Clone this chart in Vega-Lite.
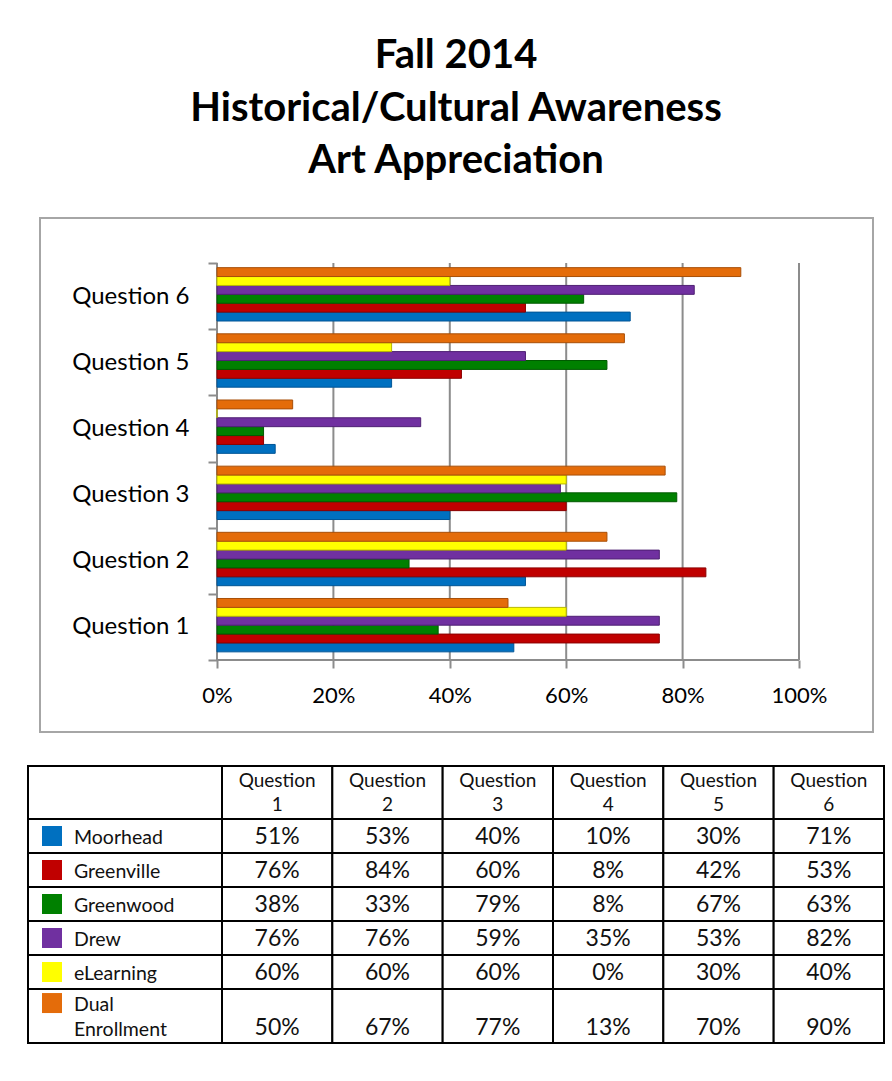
{
  "$schema": "https://vega.github.io/schema/vega-lite/v6.json",
  "background": "white",
  "padding": {"left": 26, "top": 36, "right": 5, "bottom": 5},
  "config": {"font": "Lato", "view": {"stroke": null}},
  "title": {
    "text": ["Fall 2014", "Historical/Cultural Awareness", "Art Appreciation"],
    "font": "Lato", "fontSize": 40, "fontWeight": "bold", "lineHeight": 52.5,
    "anchor": "middle", "offset": 24, "color": "black"
  },
  "datasets": {
    "scores": [
      {"question": "Question 1", "series": "Moorhead", "value": 0.51},
      {"question": "Question 1", "series": "Greenville", "value": 0.76},
      {"question": "Question 1", "series": "Greenwood", "value": 0.38},
      {"question": "Question 1", "series": "Drew", "value": 0.76},
      {"question": "Question 1", "series": "eLearning", "value": 0.60},
      {"question": "Question 1", "series": "Dual Enrollment", "value": 0.50},
      {"question": "Question 2", "series": "Moorhead", "value": 0.53},
      {"question": "Question 2", "series": "Greenville", "value": 0.84},
      {"question": "Question 2", "series": "Greenwood", "value": 0.33},
      {"question": "Question 2", "series": "Drew", "value": 0.76},
      {"question": "Question 2", "series": "eLearning", "value": 0.60},
      {"question": "Question 2", "series": "Dual Enrollment", "value": 0.67},
      {"question": "Question 3", "series": "Moorhead", "value": 0.40},
      {"question": "Question 3", "series": "Greenville", "value": 0.60},
      {"question": "Question 3", "series": "Greenwood", "value": 0.79},
      {"question": "Question 3", "series": "Drew", "value": 0.59},
      {"question": "Question 3", "series": "eLearning", "value": 0.60},
      {"question": "Question 3", "series": "Dual Enrollment", "value": 0.77},
      {"question": "Question 4", "series": "Moorhead", "value": 0.10},
      {"question": "Question 4", "series": "Greenville", "value": 0.08},
      {"question": "Question 4", "series": "Greenwood", "value": 0.08},
      {"question": "Question 4", "series": "Drew", "value": 0.35},
      {"question": "Question 4", "series": "eLearning", "value": 0.0},
      {"question": "Question 4", "series": "Dual Enrollment", "value": 0.13},
      {"question": "Question 5", "series": "Moorhead", "value": 0.30},
      {"question": "Question 5", "series": "Greenville", "value": 0.42},
      {"question": "Question 5", "series": "Greenwood", "value": 0.67},
      {"question": "Question 5", "series": "Drew", "value": 0.53},
      {"question": "Question 5", "series": "eLearning", "value": 0.30},
      {"question": "Question 5", "series": "Dual Enrollment", "value": 0.70},
      {"question": "Question 6", "series": "Moorhead", "value": 0.71},
      {"question": "Question 6", "series": "Greenville", "value": 0.53},
      {"question": "Question 6", "series": "Greenwood", "value": 0.63},
      {"question": "Question 6", "series": "Drew", "value": 0.82},
      {"question": "Question 6", "series": "eLearning", "value": 0.40},
      {"question": "Question 6", "series": "Dual Enrollment", "value": 0.90}
    ],
    "gridvalues": [{"g": 0}, {"g": 0.2}, {"g": 0.4}, {"g": 0.6}, {"g": 0.8}, {"g": 1.0}]
  },
  "data": {"name": "scores"},
  "center": true,
  "spacing": 31,
  "vconcat": [
    {
      "width": 833,
      "height": 514,
      "view": {"stroke": "#a6a6a6", "strokeWidth": 2, "fill": "white"},
      "layer": [
        {
          "data": {"name": "gridvalues"},
          "mark": {"type": "rule", "color": "#8c8c8c", "strokeWidth": 2},
          "encoding": {
            "x": {"field": "g", "type": "quantitative", "title": null,
                  "scale": {"domain": [-0.30412, 1.12715], "nice": false, "zero": false}},
            "y": {"datum": "Question 6", "type": "nominal", "bandPosition": 0, "title": null},
            "y2": {"datum": "Question 1", "bandPosition": 1}
          }
        },
        {
          "data": {"values": [{}]},
          "mark": {"type": "rule", "color": "#8c8c8c", "strokeWidth": 2},
          "encoding": {
            "x": {"datum": 0, "type": "quantitative", "title": null},
            "x2": {"datum": 1},
            "y": {"datum": "Question 1", "type": "nominal", "bandPosition": 1, "title": null}
          }
        },
        {
          "mark": {"type": "bar", "strokeWidth": 1},
          "encoding": {
            "y": {
              "field": "question", "type": "nominal", "title": null,
              "scale": {
                "domain": ["Question 6", "Question 5", "Question 4", "Question 3", "Question 2", "Question 1"],
                "paddingInner": 0, "paddingOuter": 0.884, "align": 0.385
              },
              "axis": {
                "orient": "left", "offset": -177, "domain": false, "tickBand": "extent",
                "ticks": true, "tickColor": "#8c8c8c", "tickSize": 9, "tickWidth": 2,
                "labelFont": "Lato", "labelFontSize": 24, "labelColor": "black", "labelPadding": 19,
                "title": null
              }
            },
            "x": {
              "field": "value", "type": "quantitative", "title": null,
              "scale": {"domain": [-0.30412, 1.12715], "nice": false, "zero": false},
              "axis": {
                "values": [0, 0.2, 0.4, 0.6, 0.8, 1], "format": ".0%", "orient": "bottom",
                "offset": -72, "domain": false, "grid": false, "tickColor": "#8c8c8c",
                "tickSize": 8, "tickWidth": 2, "labelFont": "Lato", "labelFontSize": 22,
                "labelColor": "black", "labelPadding": 17, "labelFlush": false, "title": null
              }
            },
            "yOffset": {
              "field": "series", "type": "nominal",
              "scale": {
                "domain": ["Dual Enrollment", "eLearning", "Drew", "Greenwood", "Greenville", "Moorhead"],
                "paddingInner": 0, "paddingOuter": 0.72, "align": 0.36
              }
            },
            "color": {
              "field": "series", "type": "nominal", "legend": null,
              "scale": {
                "domain": ["Moorhead", "Greenville", "Greenwood", "Drew", "eLearning", "Dual Enrollment"],
                "range": ["#0070C0", "#C00000", "#008000", "#7030A0", "#FFFF00", "#E46C0A"]
              }
            },
            "stroke": {
              "field": "series", "type": "nominal", "legend": null,
              "scale": {
                "domain": ["Moorhead", "Greenville", "Greenwood", "Drew", "eLearning", "Dual Enrollment"],
                "range": ["#005596", "#8b0000", "#005a00", "#4f2073", "#b8b800", "#a84f08"]
              }
            }
          }
        }
      ]
    },
    {
      "columns": 2,
      "spacing": 0,
      "bounds": "flush",
      "concat": [
        {
          "width": 194, "height": 53,
          "view": {"stroke": "black", "strokeWidth": 2, "fill": "white"},
          "data": {"values": [{}]},
          "mark": {"type": "text", "text": ""},
          "encoding": {}
        },
        {
          "width": 662, "height": 53,
          "view": {"stroke": "black", "strokeWidth": 2, "fill": "white"},
          "transform": [{"filter": "datum.series == 'Moorhead'"}],
          "encoding": {
            "x": {"field": "question", "type": "nominal", "axis": null,
                  "scale": {"domain": ["Question 1", "Question 2", "Question 3", "Question 4", "Question 5", "Question 6"], "paddingInner": 0, "paddingOuter": 0}}
          },
          "layer": [
            {"mark": {"type": "rect", "fill": "white", "stroke": "black", "strokeWidth": 2}},
            {"mark": {"type": "text", "lineBreak": " ", "fontSize": 19, "lineHeight": 24, "font": "Lato", "color": "#111", "baseline": "middle", "dy": -12},
             "encoding": {"text": {"field": "question"}}}
          ]
        },
        {
          "width": 194, "height": 170,
          "view": {"stroke": "black", "strokeWidth": 2, "fill": "white"},
          "transform": [{"filter": "datum.question == 'Question 1' && datum.series != 'Dual Enrollment'"}],
          "encoding": {
            "y": {"field": "series", "type": "nominal", "axis": null,
                  "scale": {"domain": ["Moorhead", "Greenville", "Greenwood", "Drew", "eLearning"], "paddingInner": 0, "paddingOuter": 0}}
          },
          "layer": [
            {"mark": {"type": "rect", "fill": "white", "stroke": "black", "strokeWidth": 2}},
            {
              "mark": {"type": "square", "size": 400, "filled": true, "opacity": 1},
              "encoding": {
                "x": {"datum": 0, "type": "quantitative", "axis": null,
                      "scale": {"domain": [-1.091, 7.727], "nice": false, "zero": false}},
                "color": {
                  "field": "series", "type": "nominal", "legend": null,
                  "scale": {
                    "domain": ["Moorhead", "Greenville", "Greenwood", "Drew", "eLearning", "Dual Enrollment"],
                    "range": ["#0070C0", "#C00000", "#008000", "#7030A0", "#FFFF00", "#E46C0A"]
                  }
                }
              }
            },
            {
              "mark": {"type": "text", "align": "left", "baseline": "middle", "fontSize": 19.5, "font": "Lato", "color": "#111", "dy": 2},
              "encoding": {
                "x": {"datum": 1, "type": "quantitative", "axis": null,
                      "scale": {"domain": [-1.091, 7.727], "nice": false, "zero": false}},
                "text": {"field": "series"}
              }
            }
          ]
        },
        {
          "width": 662, "height": 170,
          "view": {"stroke": "black", "strokeWidth": 2, "fill": "white"},
          "transform": [{"filter": "datum.series != 'Dual Enrollment'"}],
          "encoding": {
            "x": {"field": "question", "type": "nominal", "axis": null,
                  "scale": {"domain": ["Question 1", "Question 2", "Question 3", "Question 4", "Question 5", "Question 6"], "paddingInner": 0, "paddingOuter": 0}},
            "y": {"field": "series", "type": "nominal", "axis": null,
                  "scale": {"domain": ["Moorhead", "Greenville", "Greenwood", "Drew", "eLearning"], "paddingInner": 0, "paddingOuter": 0}}
          },
          "layer": [
            {"mark": {"type": "rect", "fill": "white", "stroke": "black", "strokeWidth": 2}},
            {"mark": {"type": "text", "fontSize": 23, "font": "Lato", "color": "#111", "baseline": "middle", "dy": 1},
             "encoding": {"text": {"field": "value", "type": "quantitative", "format": ".0%"}}}
          ]
        },
        {
          "width": 194, "height": 54,
          "view": {"stroke": "black", "strokeWidth": 2, "fill": "white"},
          "transform": [{"filter": "datum.question == 'Question 1' && datum.series == 'Dual Enrollment'"}],
          "encoding": {
            "y": {"field": "series", "type": "nominal", "axis": null,
                  "scale": {"domain": ["Dual Enrollment"], "paddingInner": 0, "paddingOuter": 0}}
          },
          "layer": [
            {"mark": {"type": "rect", "fill": "white", "stroke": "black", "strokeWidth": 2}},
            {
              "mark": {"type": "square", "size": 400, "filled": true, "opacity": 1},
              "encoding": {
                "x": {"datum": 0, "type": "quantitative", "axis": null,
                      "scale": {"domain": [-1.091, 7.727], "nice": false, "zero": false}},
                "y": {"field": "series", "type": "nominal", "bandPosition": 0.26},
                "color": {
                  "field": "series", "type": "nominal", "legend": null,
                  "scale": {
                    "domain": ["Moorhead", "Greenville", "Greenwood", "Drew", "eLearning", "Dual Enrollment"],
                    "range": ["#0070C0", "#C00000", "#008000", "#7030A0", "#FFFF00", "#E46C0A"]
                  }
                }
              }
            },
            {
              "mark": {"type": "text", "align": "left", "baseline": "middle", "fontSize": 19.5, "font": "Lato", "color": "#111", "lineBreak": " ", "lineHeight": 25, "dy": -11},
              "encoding": {
                "x": {"datum": 1, "type": "quantitative", "axis": null,
                      "scale": {"domain": [-1.091, 7.727], "nice": false, "zero": false}},
                "text": {"field": "series"}
              }
            }
          ]
        },
        {
          "width": 662, "height": 54,
          "view": {"stroke": "black", "strokeWidth": 2, "fill": "white"},
          "transform": [{"filter": "datum.series == 'Dual Enrollment'"}],
          "encoding": {
            "x": {"field": "question", "type": "nominal", "axis": null,
                  "scale": {"domain": ["Question 1", "Question 2", "Question 3", "Question 4", "Question 5", "Question 6"], "paddingInner": 0, "paddingOuter": 0}}
          },
          "layer": [
            {"mark": {"type": "rect", "fill": "white", "stroke": "black", "strokeWidth": 2}},
            {"mark": {"type": "text", "fontSize": 23, "font": "Lato", "color": "#111", "baseline": "middle", "dy": 12},
             "encoding": {
               "text": {"field": "value", "type": "quantitative", "format": ".0%"}
             }}
          ]
        }
      ]
    }
  ]
}
